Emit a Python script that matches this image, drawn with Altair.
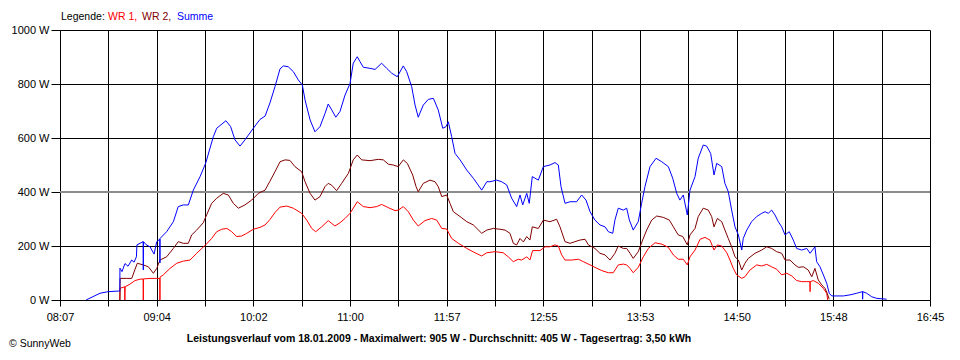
import json
import altair as alt
import pandas as pd

# ---------------- data (minutes since midnight, watts) ----------------
t_summe = [502.5, 510.8, 515.8, 521.7, 522.6, 522.7, 523.9, 525.7, 527.5, 529.7, 531.1, 532.5, 532.8,
           536.5, 536.6, 536.7, 538.2, 540.6, 543.0, 544.6, 546.4, 546.5, 546.6, 550.5, 554.5, 557.4,
           560.4, 563.4, 566.4, 570.4, 573.7, 578.3, 580.3, 585.8, 588.6, 591.2, 594.2, 597.1, 602.1,
           606.1, 609.1, 612.0, 615.0, 618.0, 620.0, 622.9, 625.9, 628.9, 631.3, 632.9, 635.9, 638.8,
           641.8, 644.8, 646.7, 648.8, 651.2, 653.7, 656.7, 659.7, 661.6, 664.0, 665.6, 667.6, 671.6,
           674.6, 678.5, 681.5, 684.5, 687.8, 691.4, 693.4, 696.4, 698.4, 700.3, 703.3, 706.3, 709.3,
           712.2, 714.9, 716.8, 718.2, 720.2, 722.2, 725.2, 729.2, 733.1, 738.1, 741.1, 743.0, 747.0,
           750.0, 753.0, 755.9, 758.9, 760.9, 762.5, 764.9, 766.4, 768.2, 771.8, 774.8, 778.7, 781.7,
           783.7, 785.3, 787.7, 790.7, 794.6, 797.6, 800.2, 802.6, 805.5, 808.5, 811.5, 813.5, 816.1,
           817.4, 819.4, 822.4, 824.4, 826.0, 828.3, 831.3, 833.3, 835.3, 838.3, 841.9, 845.3, 849.2,
           851.8, 854.2, 856.1, 858.1, 860.5, 862.1, 865.1, 867.0, 870.0, 872.0, 874.4, 876.4, 878.0,
           881.0, 882.9, 884.9, 886.9, 888.9, 890.9, 892.9, 893.8, 895.9, 898.8, 901.8, 904.8, 906.8,
           908.7, 910.7, 912.7, 914.7, 916.7, 918.7, 921.2, 923.6, 925.6, 928.6, 931.6, 933.6, 936.5,
           937.5, 939.5, 941.5, 943.5, 945.0, 946.5, 953.4, 957.4, 961.4, 964.8, 964.9, 965.0, 967.3,
           970.3, 973.3, 979.2]
w_summe = [0, 25, 31, 33, 33, 118, 105, 135, 125, 148, 140, 160, 204,
           216, 111, 216, 205, 197, 170, 216, 225, 137, 228, 253, 290, 346,
           352, 352, 407, 457, 506, 605, 636, 664, 642, 593, 570, 593, 636,
           669, 681, 730, 790, 856, 867, 864, 846, 815, 796, 741, 667, 623,
           642, 691, 726, 704, 677, 698, 759, 802, 877, 901, 883, 862, 858,
           854, 877, 858, 840, 827, 867, 846, 790, 722, 677, 722, 743, 747,
           704, 636, 642, 660, 605, 543, 519, 481, 451, 407, 438, 438, 444,
           438, 426, 377, 346, 389, 352, 395, 358, 457, 444, 494, 500, 509,
           500, 420, 358, 364, 364, 389, 370, 327, 296, 278, 271, 253, 247,
           296, 340, 333, 340, 296, 259, 290, 358, 420, 494, 525, 512, 494,
           451, 395, 370, 389, 315, 407, 457, 525, 574, 570, 543, 463, 506,
           494, 432, 401, 333, 271, 241, 185, 228, 259, 290, 309, 321, 327,
           321, 333, 315, 290, 271, 241, 253, 222, 191, 185, 191, 173, 197,
           142, 123, 93, 62, 25, 15, 15, 19, 25, 31, 3, 31, 25,
           12, 6, 3]

t_wr2 = [522.7, 522.8, 526.7, 529.7, 533.0, 536.6, 539.6, 542.6, 544.6, 546.5, 550.5, 554.5, 557.4,
         560.4, 563.4, 565.4, 568.4, 572.3, 574.3, 577.3, 580.3, 584.2, 587.2, 590.2, 593.2, 597.1,
         601.1, 605.1, 609.1, 612.0, 615.0, 618.0, 621.0, 623.9, 626.9, 630.9, 632.9, 635.9, 638.8,
         641.8, 644.8, 646.7, 648.8, 651.7, 654.7, 658.7, 661.6, 664.0, 666.6, 671.6, 676.5, 679.5,
         682.5, 685.4, 688.4, 691.4, 693.8, 697.0, 699.0, 700.3, 703.3, 707.3, 710.3, 712.2, 714.3,
         717.2, 719.2, 721.2, 725.2, 729.2, 733.1, 738.1, 741.1, 745.0, 749.0, 752.0, 754.9, 756.9,
         758.9, 760.9, 762.9, 764.9, 766.8, 768.2, 771.8, 774.8, 778.7, 782.7, 784.7, 787.7, 790.7,
         793.6, 796.6, 799.6, 801.6, 805.5, 808.5, 811.5, 814.5, 817.4, 819.4, 822.4, 824.4, 826.4,
         828.3, 831.3, 833.9, 836.3, 839.3, 842.3, 846.2, 849.8, 852.2, 855.1, 857.8, 860.5, 862.1,
         865.1, 867.0, 870.0, 873.0, 875.0, 876.4, 878.4, 881.0, 882.9, 884.9, 886.9, 888.9, 890.9,
         892.9, 894.8, 896.8, 900.8, 904.8, 907.8, 910.7, 913.7, 916.7, 918.7, 921.6, 924.6, 926.6,
         929.6, 932.5, 934.6, 936.5, 938.5, 940.5, 942.5, 943.8, 945.0]
w_wr2 = [0, 80, 80, 80, 136, 130, 123, 99, 117, 148, 160, 191, 216,
         210, 210, 241, 259, 286, 315, 358, 377, 395, 389, 358, 340, 352,
         370, 395, 407, 440, 475, 512, 519, 517, 494, 475, 438, 395, 370,
         383, 420, 432, 425, 405, 432, 469, 519, 537, 519, 516, 521, 519,
         503, 500, 494, 519, 506, 463, 420, 401, 432, 444, 438, 420, 383,
         389, 358, 327, 309, 290, 278, 247, 259, 265, 262, 259, 247, 210,
         204, 228, 215, 235, 222, 271, 265, 296, 290, 299, 271, 216, 210,
         216, 222, 225, 204, 191, 173, 167, 148, 173, 200, 191, 191, 173,
         154, 179, 222, 259, 296, 311, 306, 296, 271, 241, 235, 204, 241,
         265, 309, 340, 333, 309, 271, 302, 290, 259, 228, 197, 160, 148,
         111, 136, 154, 173, 185, 197, 191, 179, 173, 148, 148, 130, 121,
         123, 111, 86, 117, 74, 56, 43, 25, 3]

t_wr1 = [522.6, 522.7, 525.5, 525.6, 525.8, 528.7, 531.7, 534.6, 536.5, 536.6, 536.7, 540.6, 544.6,
         546.4, 546.5, 546.6, 548.5, 552.5, 556.5, 560.4, 564.4, 568.4, 571.4, 573.7, 577.3, 580.3,
         583.3, 586.3, 589.2, 592.2, 595.2, 598.2, 602.1, 606.1, 609.1, 612.0, 615.0, 618.0, 622.0,
         625.9, 630.9, 633.9, 636.9, 639.2, 642.8, 646.7, 650.7, 653.7, 656.7, 659.7, 664.0, 667.6,
         671.6, 675.6, 678.5, 682.5, 686.5, 688.4, 691.4, 694.4, 697.4, 700.3, 704.3, 708.3, 711.3,
         714.3, 717.2, 720.2, 724.2, 729.2, 734.1, 738.1, 741.1, 746.0, 750.9, 753.9, 756.9, 759.9,
         761.9, 764.9, 766.8, 768.4, 772.8, 775.8, 778.7, 781.7, 783.7, 785.7, 787.7, 791.7, 795.6,
         798.6, 802.6, 805.5, 809.5, 813.5, 816.4, 819.4, 822.4, 824.4, 826.4, 828.3, 831.3, 834.3,
         837.3, 841.3, 845.3, 849.2, 852.2, 855.1, 858.1, 860.5, 862.1, 865.1, 868.1, 871.0, 874.0,
         876.4, 878.4, 881.0, 884.0, 885.9, 887.9, 889.9, 892.9, 894.8, 897.8, 901.8, 904.8, 907.8,
         910.7, 913.7, 916.7, 919.7, 922.7, 925.6, 928.6, 931.6, 933.5, 933.6, 933.7, 935.5, 938.5,
         941.5, 943.5, 944.1]
w_wr1 = [0, 43, 49, 0, 49, 59, 72, 77, 78, 0, 78, 80, 80,
         80, 0, 85, 93, 117, 136, 144, 148, 173, 191, 204, 228, 253,
         262, 265, 253, 235, 237, 247, 262, 269, 278, 298, 324, 344, 348,
         340, 321, 296, 265, 253, 271, 294, 274, 286, 302, 321, 364, 346,
         342, 346, 354, 342, 331, 333, 346, 327, 296, 274, 294, 302, 296,
         265, 263, 228, 210, 191, 175, 163, 175, 179, 175, 160, 142, 151,
         148, 160, 148, 183, 183, 197, 197, 204, 200, 167, 148, 148, 151,
         142, 130, 121, 109, 101, 101, 130, 133, 130, 117, 101, 121, 160,
         191, 212, 207, 195, 167, 151, 151, 130, 160, 185, 225, 232, 222,
         185, 204, 200, 175, 148, 117, 93, 80, 86, 111, 130, 126, 132,
         123, 114, 93, 99, 89, 72, 68, 68, 68, 31, 68, 72, 62,
         43, 25, 0]

series_names = ["WR 1", "WR 2", "Summe"]
series_colors = ["#ff0000", "#800000", "#0000ff"]
x_tick_labels = ["08:07", "09:04", "10:02", "11:00", "11:57", "12:55", "13:53", "14:50", "15:48", "16:45"]
y_ticks = [0, 200, 400, 600, 800, 1000]
t_start, t_end = 487, 1005
title_text = ("Leistungsverlauf vom 18.01.2009 - Maximalwert: 905 W - Durchschnitt: 405 W - "
              "Tagesertrag: 3,50 kWh")

# ---------------- build table ----------------
rows = []
for name, ts, ws in [("WR 1", t_wr1, w_wr1), ("WR 2", t_wr2, w_wr2), ("Summe", t_summe, w_summe)]:
    for i, (t, w) in enumerate(zip(ts, ws)):
        rows.append({"t": t, "w": w, "serie": name, "i": i})
df = pd.DataFrame(rows)

step = (t_end - t_start) / 18
x_ticks = [t_start + k * step for k in range(19)]
label_expr = (f"round((datum.value - {t_start}) / {step}) % 2 == 1 ? '' : "
              f"{json.dumps(x_tick_labels)}[round((datum.value - {t_start}) / {2 * step})]")

FONT = "Liberation Sans, Arial, sans-serif"

x_enc = alt.X("t:Q",
              scale=alt.Scale(domain=[t_start, t_end], nice=False, zero=False),
              axis=alt.Axis(values=x_ticks, labelExpr=label_expr, title=None, grid=True,
                            tickSize=6, labelPadding=5, labelFlush=False, labelOverlap=False))
y_enc = alt.Y("w:Q",
              scale=alt.Scale(domain=[0, 1000], nice=False),
              axis=alt.Axis(values=y_ticks, labelExpr="datum.value + ' W'", title=None,
                            tickSize=9, labelPadding=2, grid=True))

lines = alt.Chart(df).mark_line(strokeWidth=1, interpolate="linear").encode(
    x=x_enc, y=y_enc,
    color=alt.Color("serie:N", scale=alt.Scale(domain=series_names, range=series_colors), legend=None),
    order="i:Q",
)

rule400 = alt.Chart(pd.DataFrame({"w": [400]})).mark_rule(color="#8c8c8c", strokeWidth=2).encode(
    y=alt.Y("w:Q")
)


def label(text, x, y, color="black", bold=False, align="left", size=11):
    return alt.Chart(pd.DataFrame({"txt": [text]})).mark_text(
        align=align, baseline="alphabetic", font=FONT, fontSize=size, color=color,
        fontWeight="bold" if bold else "normal",
    ).encode(text="txt:N", x=alt.value(x), y=alt.value(y))


legend_parts = [
    label("Legende:", 1, -10, size=10.5),
    label("WR 1,", 48, -10, series_colors[0], size=10.5),
    label("WR 2,", 82, -10, series_colors[1], size=10.5),
    label("Summe", 117, -10, series_colors[2], size=10.5),
]
title_mark = label(title_text, 379, 312, bold=True, align="center", size=10.5)
copyright_mark = label("\u00a9 SunnyWeb", -51, 317, size=10.5)

chart = alt.layer(rule400, lines, *legend_parts, title_mark, copyright_mark).properties(
    width=870, height=270,
    autosize=alt.AutoSizeParams(type="none"),
    padding={"left": 52, "top": 22, "right": 20, "bottom": 52},
    background="white",
).configure_axis(
    gridColor="black", gridOpacity=1, gridWidth=1,
    domainColor="black", tickColor="black", labelColor="black",
    labelFont=FONT, labelFontSize=11,
).configure_view(stroke=None)

chart.save("out.html", embed_options={"renderer": "svg", "actions": False})
